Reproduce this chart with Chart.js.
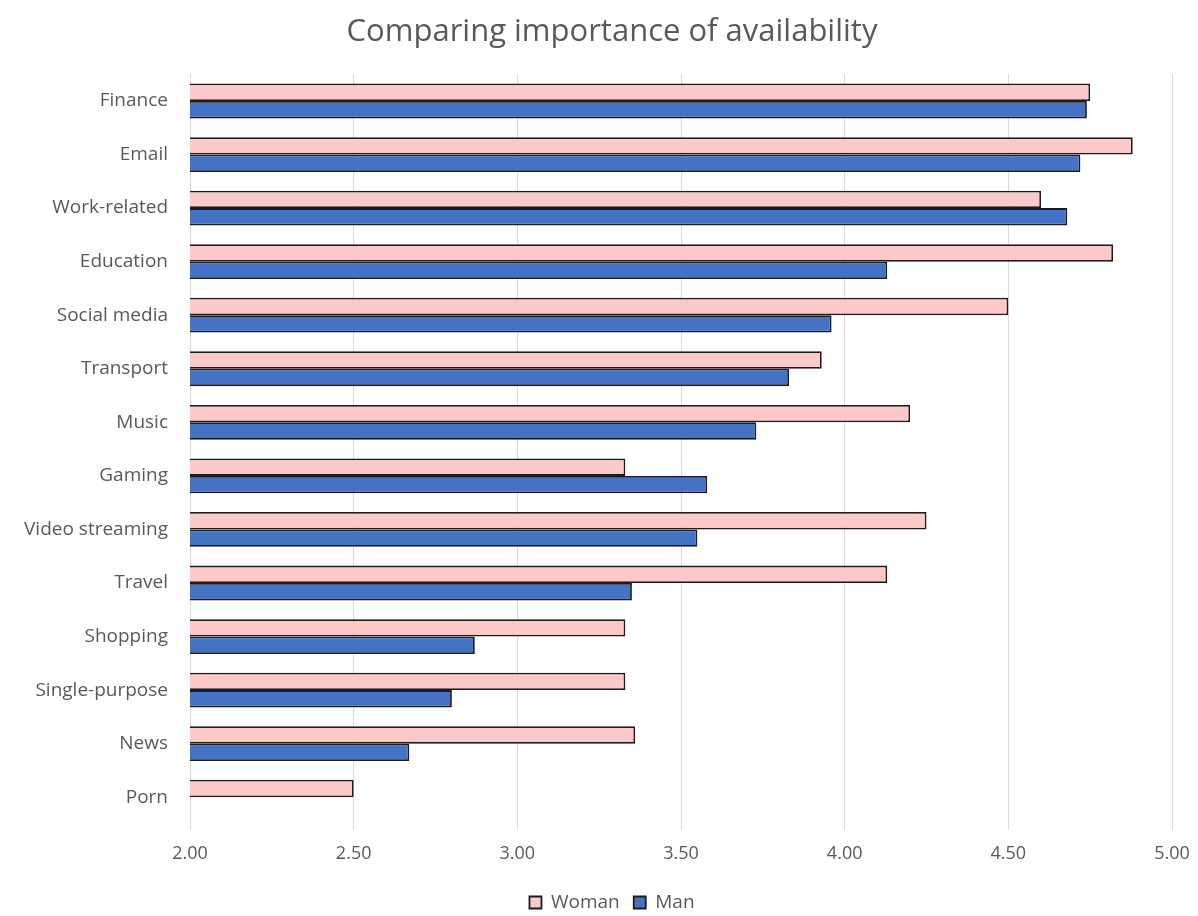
<!DOCTYPE html>
<html>
<head>
<meta charset="utf-8">
<script src="https://cdn.jsdelivr.net/npm/chart.js@4"></script>
<style>
  html, body { margin: 0; padding: 0; background: #ffffff; }
  #wrap { width: 1198px; height: 916px; }
</style>
</head>
<body>
<div id="wrap"><canvas id="chart" width="1198" height="916"></canvas></div>
<script>
// Average importance rating of availability, by app category and gender
const categories = ['Finance', 'Email', 'Work-related', 'Education', 'Social media', 'Transport', 'Music',
  'Gaming', 'Video streaming', 'Travel', 'Shopping', 'Single-purpose', 'News', 'Porn'];
const womanValues = [4.75, 4.88, 4.60, 4.82, 4.50, 3.93, 4.20, 3.33, 4.25, 4.13, 3.33, 3.33, 3.36, 2.50];
const manValues   = [4.74, 4.72, 4.68, 4.13, 3.96, 3.83, 3.73, 3.58, 3.55, 3.35, 2.87, 2.80, 2.67, null];
const xTickValues = [2.0, 2.5, 3.0, 3.5, 4.0, 4.5, 5.0];

const FONT = '"Open Sans", "Noto Sans", sans-serif';
const TEXT = '#595959';

new Chart(document.getElementById('chart'), {
  type: 'bar',
  data: {
    labels: categories,
    datasets: [
      { label: 'Woman', data: womanValues, backgroundColor: '#fcc8c8', borderColor: '#1c1c1c', borderWidth: 1.8 },
      { label: 'Man', data: manValues, backgroundColor: '#4472c4', borderColor: '#1c1c1c', borderWidth: 1.8 }
    ]
  },
  options: {
    indexAxis: 'y',
    responsive: false,
    animation: false,
    devicePixelRatio: 1,
    layout: { padding: { left: 52, right: 26, top: 0, bottom: -6 } },
    datasets: { bar: { categoryPercentage: 0.65, barPercentage: 1.0 } },
    scales: {
      x: {
        min: 2, max: 5,
        afterBuildTicks: (scale) => { scale.ticks = xTickValues.map(v => ({ value: v })); },
        afterFit: (scale) => {
          scale.height = 55;
          // let the last tick label sit in the outer padding instead of shrinking the plot
          scale.paddingRight = 0;
        },
        ticks: {
          color: TEXT,
          font: { family: FONT, size: 18 },
          padding: 13,
          callback: (v) => Number(v).toFixed(2)
        },
        grid: { color: '#d9d9d9', lineWidth: 1, drawTicks: true, tickLength: 6, tickColor: '#d9d9d9' },
        border: { display: false }
      },
      y: {
        afterFit: (scale) => {
          scale.width = 138;
          // long category names extend left of the axis box; keep them unclipped
          scale._computeLabelArea = () => undefined;
        },
        ticks: { color: TEXT, font: { family: FONT, size: 19 }, padding: 14 },
        grid: { display: false },
        border: { display: false }
      }
    },
    plugins: {
      title: {
        display: true,
        text: 'Comparing importance of availability',
        color: TEXT,
        font: { family: FONT, size: 31, weight: 'normal' },
        padding: { top: 14, bottom: 23 }
      },
      legend: {
        position: 'bottom',
        labels: {
          color: TEXT,
          font: { family: FONT, size: 19 },
          boxWidth: 12, boxHeight: 12,
          padding: 14,
          useBorderRadius: false
        }
      },
      tooltip: { enabled: false }
    }
  }
});
</script>
</body>
</html>
